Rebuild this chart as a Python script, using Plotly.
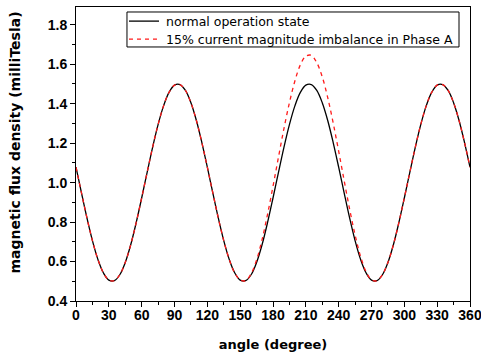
import plotly.graph_objects as go

angle = list(range(0, 361, 5))

normal_state = [
    1.078, 0.948, 0.821, 0.706, 0.611, 0.543, 0.506, 0.503, 0.533, 0.595, 0.685, 0.797,
    0.922, 1.052, 1.179, 1.294, 1.389, 1.457, 1.494, 1.497, 1.467, 1.405, 1.315, 1.203,
    1.078, 0.948, 0.821, 0.706, 0.611, 0.543, 0.506, 0.503, 0.533, 0.595, 0.685, 0.797,
    0.922, 1.052, 1.179, 1.294, 1.389, 1.457, 1.494, 1.497, 1.467, 1.405, 1.315, 1.203,
    1.078, 0.948, 0.821, 0.706, 0.611, 0.543, 0.506, 0.503, 0.533, 0.595, 0.685, 0.797,
    0.922, 1.052, 1.179, 1.294, 1.389, 1.457, 1.494, 1.497, 1.467, 1.405, 1.315, 1.203,
    1.078,
]

imbalance_phase_a = [
    1.078, 0.948, 0.821, 0.706, 0.611, 0.543, 0.506, 0.503, 0.533, 0.595, 0.685, 0.797,
    0.922, 1.052, 1.179, 1.294, 1.389, 1.457, 1.494, 1.497, 1.467, 1.405, 1.315, 1.203,
    1.078, 0.948, 0.821, 0.706, 0.611, 0.543, 0.507, 0.503, 0.538, 0.608, 0.711, 0.839,
    0.981, 1.129, 1.274, 1.405, 1.515, 1.597, 1.641, 1.645, 1.608, 1.536, 1.431, 1.302,
    1.159, 1.011, 0.866, 0.735, 0.626, 0.549, 0.507, 0.503, 0.533, 0.595, 0.685, 0.797,
    0.922, 1.052, 1.179, 1.294, 1.389, 1.457, 1.494, 1.497, 1.467, 1.405, 1.315, 1.203,
    1.078,
]

series_names = ["normal operation state", "15% current magnitude imbalance in Phase A"]
series_colors = ["black", "#ff1a1a"]
series_dash = ["solid", "4px,4px"]

x_ticks = list(range(0, 361, 30))
y_ticks = [0.4, 0.6, 0.8, 1.0, 1.2, 1.4, 1.6, 1.8]
y_tick_text = ["0.4", "0.6", "0.8", "1.0", "1.2", "1.4", "1.6", "1.8"]

x_title = "angle (degree)"
y_title = "magnetic flux density (milliTesla)"

fig = go.Figure()
for name, ys, col, dash in zip(series_names, [normal_state, imbalance_phase_a],
                               series_colors, series_dash):
    fig.add_trace(go.Scatter(
        x=angle, y=ys, mode="lines", name=name,
        line=dict(color=col, width=1.3, dash=dash, shape="spline"),
    ))

# Compact legend box drawn in paper coordinates (plot-area relative)
leg_x0, leg_x1, leg_y0, leg_y1 = 0.1294, 0.9721, 0.864, 0.983
row_y = [0.952, 0.891]
shapes = [dict(type="rect", xref="paper", yref="paper", x0=leg_x0, x1=leg_x1,
               y0=leg_y0, y1=leg_y1, line=dict(color="black", width=1),
               fillcolor="white", layer="above")]
annotations = []
for name, col, dash, ry in zip(series_names, series_colors, series_dash, row_y):
    shapes.append(dict(type="line", xref="paper", yref="paper", x0=0.1345, x1=0.2107,
                       y0=ry, y1=ry, line=dict(color=col, width=1.3, dash=dash),
                       layer="above"))
    annotations.append(dict(text=name, xref="paper", yref="paper", x=0.2233, y=ry,
                            xanchor="left", yanchor="middle", showarrow=False,
                            font=dict(family="DejaVu Sans, sans-serif", size=12.5,
                                      color="black")))

# y-axis title (placed slightly above the axis centre, as in the reference)
annotations.append(dict(text=y_title, xref="paper", yref="paper", x=-0.1548, y=0.539,
                        xanchor="center", yanchor="middle", textangle=-90, showarrow=False,
                        font=dict(family="DejaVu Sans, sans-serif", size=14, color="black",
                                  weight="bold")))

tick_font = dict(family="Liberation Sans Narrow, Arial Narrow, Liberation Sans, sans-serif",
                 size=14, color="black", weight="bold")
title_font = dict(family="DejaVu Sans, sans-serif", size=13, color="black", weight="bold")

fig.update_layout(
    width=481, height=358,
    margin=dict(l=76, r=11, t=7, b=57),
    paper_bgcolor="white", plot_bgcolor="white",
    showlegend=False,
    shapes=shapes,
    annotations=annotations,
    xaxis=dict(
        range=[0, 360], tickvals=x_ticks, showgrid=False, zeroline=False,
        showline=True, linecolor="black", linewidth=1, mirror=True,
        ticks="outside", ticklen=5, tickcolor="black", tickwidth=1,
        minor=dict(dtick=15, ticks="outside", ticklen=3, tickcolor="black", showgrid=False),
        tickfont=tick_font, automargin=False, ticklabeloverflow="allow",
        ticklabelstandoff=-4,
        title=dict(text=x_title, font=title_font, standoff=18),
    ),
    yaxis=dict(
        range=[0.4, 1.89], tickvals=y_ticks, ticktext=y_tick_text, showgrid=False,
        zeroline=False, showline=True, linecolor="black", linewidth=1, mirror=True,
        ticks="outside", ticklen=5, tickcolor="black", tickwidth=1,
        minor=dict(dtick=0.1, tick0=0.4, ticks="outside", ticklen=3, tickcolor="black", showgrid=False),
        tickfont=tick_font, automargin=False, ticklabeloverflow="allow",
    ),
)

fig.write_html("out.html", config={"displayModeBar": False},
               post_script="document.body.style.margin='0';document.body.style.padding='0';")
